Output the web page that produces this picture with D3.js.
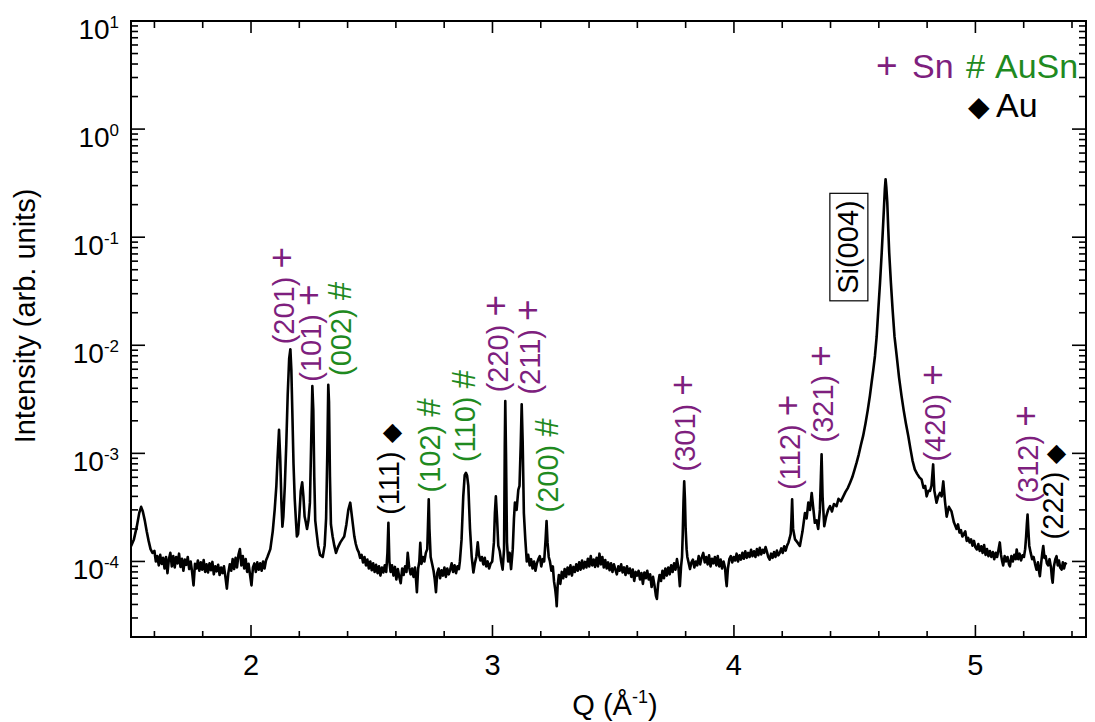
<!DOCTYPE html>
<html>
<head>
<meta charset="utf-8">
<script src="https://cdn.jsdelivr.net/npm/d3@7"></script>
<style>
  body { margin: 0; background: #fff; }
  svg { display: block; font-family: "Liberation Sans", Arial, sans-serif; }
</style>
</head>
<body>
<div id="chart"></div>
<script>
// XRD scan, Q (1/A) vs intensity
const scan = [
  [1.503,1.38e-4],[1.515,1.6e-4],[1.527,2.1e-4],[1.537,2.8e-4],[1.545,3.2e-4],[1.552,2.9e-4],
  [1.560,2.4e-4],[1.568,1.9e-4],[1.576,1.55e-4],[1.584,1.3e-4],[1.592,1.2e-4],[1.600,1.25e-4],
  [1.606,1.0e-4],[1.612,1.12e-4],[1.618,9.2e-5],[1.624,1.15e-4],[1.630,9.5e-5],[1.636,1.08e-4],
  [1.642,8.6e-5],[1.648,1.1e-4],[1.654,7.8e-5],[1.660,1.05e-4],[1.666,1.2e-4],[1.672,9.0e-5],
  [1.678,1.12e-4],[1.684,8.8e-5],[1.690,1.1e-4],[1.696,9.6e-5],[1.702,1.18e-4],[1.708,8.9e-5],
  [1.714,1.06e-4],[1.720,8.2e-5],[1.726,1.04e-4],[1.732,9.3e-5],[1.738,1.1e-4],[1.744,8.5e-5],
  [1.750,1.0e-4],[1.756,8.0e-5],[1.762,6.0e-5],[1.768,9.5e-5],[1.774,8.6e-5],[1.780,1.02e-4],
  [1.786,8.2e-5],[1.792,9.8e-5],[1.798,8.4e-5],[1.804,1.03e-4],[1.810,8.0e-5],[1.816,9.4e-5],
  [1.822,7.9e-5],[1.828,9.6e-5],[1.834,8.3e-5],[1.840,9.9e-5],[1.846,7.6e-5],[1.852,9.0e-5],
  [1.858,8.1e-5],[1.864,9.3e-5],[1.870,7.5e-5],[1.876,8.8e-5],[1.882,7.8e-5],[1.888,9.0e-5],
  [1.894,7.2e-5],[1.900,5.6e-5],[1.906,7.8e-5],[1.912,9.4e-5],[1.918,8.2e-5],[1.924,1.05e-4],
  [1.930,8.5e-5],[1.936,1.08e-4],[1.942,8.8e-5],[1.948,1.15e-4],[1.954,1.3e-4],[1.960,9.2e-5],
  [1.966,1.12e-4],[1.972,8.6e-5],[1.978,1.05e-4],[1.984,8.0e-5],[1.990,9.5e-5],[1.996,7.5e-5],
  [2.002,6.0e-5],[2.008,8.8e-5],[2.014,9.6e-5],[2.020,8.0e-5],[2.026,9.8e-5],[2.032,8.4e-5],
  [2.038,9.6e-5],[2.044,8.2e-5],[2.050,1.0e-4],[2.056,8.6e-5],[2.062,1.02e-4],[2.068,1.1e-4],
  [2.080,1.3e-4],[2.090,1.9e-4],[2.098,3.0e-4],[2.105,5.0e-4],[2.110,9.0e-4],[2.116,1.65e-3],
  [2.121,9.0e-4],[2.126,3.5e-4],[2.130,2.1e-4],[2.134,2.6e-4],[2.140,5.0e-4],[2.146,1.2e-3],
  [2.152,3.5e-3],[2.158,7.5e-3],[2.163,9.2e-3],[2.167,6.0e-3],[2.171,2.5e-3],[2.176,8.0e-4],
  [2.181,3.8e-4],[2.186,2.4e-4],[2.190,1.7e-4],[2.195,1.8e-4],[2.200,2.6e-4],[2.206,4.5e-4],
  [2.212,5.4e-4],[2.217,4.0e-4],[2.222,2.6e-4],[2.227,2.3e-4],[2.232,2.0e-4],[2.238,2.4e-4],
  [2.244,3.5e-4],[2.249,1.2e-3],[2.254,4.2e-3],[2.258,2.5e-3],[2.262,6.0e-4],[2.266,2.4e-4],
  [2.271,1.9e-4],[2.278,1.4e-4],[2.286,1.15e-4],[2.297,1.1e-4],[2.305,1.4e-4],[2.311,2.5e-4],
  [2.316,1.0e-3],[2.320,4.3e-3],[2.323,3.0e-3],[2.327,6.0e-4],[2.331,2.2e-4],[2.338,1.7e-4],
  [2.345,1.4e-4],[2.352,1.2e-4],[2.360,1.35e-4],[2.370,1.5e-4],[2.378,1.6e-4],[2.386,1.7e-4],
  [2.395,2.2e-4],[2.403,3.0e-4],[2.411,3.5e-4],[2.418,2.6e-4],[2.428,1.7e-4],[2.434,1.45e-4],
  [2.440,1.3e-4],[2.446,1.22e-4],[2.452,1.08e-4],[2.458,1.15e-4],[2.464,9.8e-5],[2.470,1.1e-4],
  [2.476,9.2e-5],[2.482,1.04e-4],[2.488,8.6e-5],[2.494,1.0e-4],[2.500,8.3e-5],[2.506,9.6e-5],
  [2.512,8.0e-5],[2.518,9.3e-5],[2.524,7.8e-5],[2.530,9.0e-5],[2.536,7.4e-5],[2.542,8.8e-5],
  [2.548,7.9e-5],[2.554,9.2e-5],[2.560,8.0e-5],[2.565,1.2e-4],[2.569,2.28e-4],[2.573,1.0e-4],
  [2.578,8.0e-5],[2.584,9.2e-5],[2.590,7.4e-5],[2.596,8.9e-5],[2.602,6.8e-5],[2.608,8.5e-5],
  [2.614,7.2e-5],[2.620,6.3e-5],[2.626,8.6e-5],[2.632,7.5e-5],[2.638,9.0e-5],[2.644,8.0e-5],
  [2.649,1.2e-4],[2.655,8.8e-5],[2.661,7.6e-5],[2.667,8.6e-5],[2.673,7.2e-5],[2.679,8.8e-5],
  [2.684,6.5e-5],[2.687,5.2e-5],[2.692,8.5e-5],[2.697,1.0e-4],[2.701,1.49e-4],[2.706,9.5e-5],
  [2.712,1.1e-4],[2.718,1.0e-4],[2.724,1.2e-4],[2.730,1.3e-4],[2.733,2.2e-4],[2.736,3.75e-4],
  [2.739,2.0e-4],[2.744,1.1e-4],[2.750,9.5e-5],[2.756,8.2e-5],[2.761,6.8e-5],[2.766,5.2e-5],
  [2.771,7.8e-5],[2.777,8.6e-5],[2.783,7.0e-5],[2.789,8.3e-5],[2.795,7.4e-5],[2.801,8.8e-5],
  [2.807,7.2e-5],[2.813,8.6e-5],[2.819,7.6e-5],[2.825,8.4e-5],[2.831,9.6e-5],[2.837,8.0e-5],
  [2.843,9.2e-5],[2.849,7.8e-5],[2.855,9.0e-5],[2.861,8.5e-5],[2.865,1.0e-4],[2.872,1.6e-4],
  [2.879,4.0e-4],[2.885,6.3e-4],[2.890,6.6e-4],[2.895,6.2e-4],[2.900,5.0e-4],[2.907,2.0e-4],
  [2.914,1.1e-4],[2.921,7.9e-5],[2.927,9.6e-5],[2.933,1.1e-4],[2.939,1.5e-4],[2.944,1.15e-4],
  [2.950,1.02e-4],[2.956,1.1e-4],[2.962,9.4e-5],[2.968,1.08e-4],[2.974,9.0e-5],[2.980,1.0e-4],
  [2.986,8.6e-5],[2.992,9.5e-5],[2.999,1.0e-4],[3.006,1.5e-4],[3.010,2.8e-4],[3.014,4.0e-4],
  [3.019,2.5e-4],[3.024,1.4e-4],[3.030,1.25e-4],[3.036,1.0e-4],[3.042,8.4e-5],[3.048,1.3e-4],
  [3.051,1.2e-3],[3.053,3.05e-3],[3.056,1.0e-3],[3.060,1.5e-4],[3.065,1.0e-4],[3.071,1.2e-4],
  [3.077,8.5e-5],[3.084,1.3e-4],[3.089,2.5e-4],[3.093,3.5e-4],[3.100,3.0e-4],[3.107,4.6e-4],
  [3.112,5.0e-4],[3.117,1.2e-3],[3.121,2.85e-3],[3.125,1.3e-3],[3.130,2.8e-4],[3.136,1.6e-4],
  [3.142,1.0e-4],[3.148,1.15e-4],[3.154,9.2e-5],[3.160,1.05e-4],[3.166,8.6e-5],[3.172,1.0e-4],
  [3.178,8.2e-5],[3.184,9.6e-5],[3.190,1.05e-4],[3.196,1.12e-4],[3.202,9.0e-5],[3.208,1.05e-4],
  [3.214,1.0e-4],[3.220,1.6e-4],[3.224,2.36e-4],[3.228,1.5e-4],[3.233,1.1e-4],[3.238,1.0e-4],
  [3.244,8.2e-5],[3.250,9.0e-5],[3.255,6.5e-5],[3.260,5.5e-5],[3.264,4.5e-5],[3.266,3.85e-5],
  [3.270,6.0e-5],[3.275,7.5e-5],[3.281,6.2e-5],[3.287,8.0e-5],[3.293,7.0e-5],[3.299,8.5e-5],
  [3.305,7.2e-5],[3.311,8.8e-5],[3.317,7.6e-5],[3.323,9.2e-5],[3.329,7.4e-5],[3.335,8.9e-5],
  [3.341,8.0e-5],[3.347,9.4e-5],[3.353,8.2e-5],[3.359,9.8e-5],[3.365,8.4e-5],[3.371,1.02e-4],
  [3.377,8.6e-5],[3.383,9.9e-5],[3.389,8.8e-5],[3.395,1.06e-4],[3.401,9.0e-5],[3.407,1.12e-4],
  [3.413,9.2e-5],[3.419,1.04e-4],[3.425,8.9e-5],[3.431,1.08e-4],[3.437,9.0e-5],[3.443,1.18e-4],
  [3.449,9.4e-5],[3.455,1.1e-4],[3.461,8.8e-5],[3.467,1.03e-4],[3.473,8.6e-5],[3.479,9.8e-5],
  [3.485,8.3e-5],[3.491,9.6e-5],[3.497,8.0e-5],[3.503,9.4e-5],[3.509,8.4e-5],[3.515,7.6e-5],
  [3.521,9.0e-5],[3.527,8.2e-5],[3.533,9.4e-5],[3.539,7.9e-5],[3.545,8.8e-5],[3.551,7.5e-5],
  [3.557,9.0e-5],[3.563,7.8e-5],[3.569,8.6e-5],[3.575,7.2e-5],[3.581,8.4e-5],[3.587,6.6e-5],
  [3.593,8.0e-5],[3.599,7.4e-5],[3.605,8.2e-5],[3.611,6.8e-5],[3.617,7.8e-5],[3.623,6.2e-5],
  [3.629,7.9e-5],[3.635,7.0e-5],[3.641,8.2e-5],[3.647,6.8e-5],[3.653,7.6e-5],[3.659,5.8e-5],
  [3.665,7.2e-5],[3.671,6.0e-5],[3.677,4.8e-5],[3.681,4.5e-5],[3.686,6.2e-5],[3.692,7.5e-5],
  [3.698,6.6e-5],[3.704,8.2e-5],[3.710,7.0e-5],[3.716,8.6e-5],[3.722,7.4e-5],[3.728,8.8e-5],
  [3.734,7.6e-5],[3.740,9.2e-5],[3.746,8.0e-5],[3.752,9.6e-5],[3.758,8.4e-5],[3.764,1.05e-4],
  [3.770,8.8e-5],[3.776,5.9e-5],[3.781,9.0e-5],[3.785,1.1e-4],[3.788,1.8e-4],[3.791,3.5e-4],
  [3.794,5.5e-4],[3.797,3.8e-4],[3.800,2.0e-4],[3.804,1.3e-4],[3.807,1.1e-4],[3.813,9.6e-5],
  [3.818,8.5e-5],[3.824,9.8e-5],[3.830,1.04e-4],[3.836,8.8e-5],[3.842,1.0e-4],[3.848,9.2e-5],
  [3.854,1.12e-4],[3.860,9.4e-5],[3.866,1.08e-4],[3.873,1.2e-4],[3.879,9.8e-5],[3.885,1.1e-4],
  [3.891,9.4e-5],[3.897,1.14e-4],[3.903,9.0e-5],[3.909,1.06e-4],[3.915,9.6e-5],[3.921,1.1e-4],
  [3.927,9.2e-5],[3.933,1.12e-4],[3.939,9.0e-5],[3.945,1.04e-4],[3.951,8.6e-5],[3.957,1.0e-4],
  [3.963,8.8e-5],[3.967,6.8e-5],[3.970,5.9e-5],[3.975,8.6e-5],[3.981,1.05e-4],[3.987,1.12e-4],
  [3.993,9.8e-5],[3.999,1.1e-4],[4.005,1.02e-4],[4.011,1.18e-4],[4.017,1.0e-4],[4.023,1.14e-4],
  [4.029,1.04e-4],[4.035,1.2e-4],[4.041,1.06e-4],[4.047,1.24e-4],[4.053,1.08e-4],[4.059,1.2e-4],
  [4.065,1.1e-4],[4.071,1.28e-4],[4.077,1.12e-4],[4.083,1.24e-4],[4.089,1.1e-4],[4.095,1.3e-4],
  [4.101,1.14e-4],[4.107,1.34e-4],[4.113,1.16e-4],[4.119,1.28e-4],[4.125,1.2e-4],[4.131,1.36e-4],
  [4.137,1.22e-4],[4.142,1.1e-4],[4.148,1.04e-4],[4.154,1.18e-4],[4.160,1.08e-4],[4.166,1.22e-4],
  [4.172,1.1e-4],[4.178,1.26e-4],[4.184,1.14e-4],[4.190,1.2e-4],[4.196,1.32e-4],[4.202,1.2e-4],
  [4.208,1.38e-4],[4.214,1.26e-4],[4.220,1.4e-4],[4.226,1.5e-4],[4.231,1.65e-4],[4.235,1.8e-4],
  [4.238,2.4e-4],[4.241,3.75e-4],[4.245,2.0e-4],[4.253,1.6e-4],[4.263,1.5e-4],[4.273,1.39e-4],
  [4.284,1.9e-4],[4.294,2.8e-4],[4.301,2.5e-4],[4.308,3.5e-4],[4.315,3.0e-4],[4.322,4.3e-4],
  [4.328,3.2e-4],[4.335,2.28e-4],[4.342,2.4e-4],[4.349,2.0e-4],[4.356,3.0e-4],[4.360,6.0e-4],
  [4.363,9.8e-4],[4.367,4.0e-4],[4.374,2.12e-4],[4.382,2.6e-4],[4.390,3.0e-4],[4.398,3.25e-4],
  [4.406,2.9e-4],[4.414,3.4e-4],[4.425,3.25e-4],[4.433,3.8e-4],[4.443,3.6e-4],[4.453,4.0e-4],
  [4.462,4.4e-4],[4.472,4.8e-4],[4.481,5.35e-4],[4.490,6.0e-4],[4.499,7.0e-4],[4.508,8.2e-4],
  [4.517,9.8e-4],[4.526,1.2e-3],[4.535,1.45e-3],[4.545,1.9e-3],[4.554,2.5e-3],[4.563,3.4e-3],
  [4.570,4.5e-3],[4.577,5.9e-3],[4.584,7.96e-3],[4.591,1.2e-2],[4.598,2.15e-2],[4.605,3.8e-2],
  [4.612,7.2e-2],[4.617,1.2e-1],[4.621,1.82e-1],[4.625,2.8e-1],[4.628,3.44e-1],[4.631,2.9e-1],
  [4.635,2.1e-1],[4.639,1.2e-1],[4.643,7.2e-2],[4.650,3.8e-2],[4.657,2.15e-2],[4.665,1.2e-2],
  [4.674,7.96e-3],[4.684,5.0e-3],[4.694,3.4e-3],[4.703,2.5e-3],[4.712,1.9e-3],[4.722,1.45e-3],
  [4.731,1.1e-3],[4.740,8.5e-4],[4.749,7.1e-4],[4.758,6.5e-4],[4.768,6.0e-4],[4.777,5.75e-4],
  [4.785,4.8e-4],[4.792,5.0e-4],[4.798,4.0e-4],[4.805,4.5e-4],[4.812,4.5e-4],[4.818,5.0e-4],
  [4.822,6.5e-4],[4.825,7.9e-4],[4.830,4.5e-4],[4.839,3.5e-4],[4.846,4.0e-4],[4.853,4.3e-4],
  [4.860,4.0e-4],[4.867,5.5e-4],[4.874,3.6e-4],[4.881,2.6e-4],[4.890,3.2e-4],[4.901,2.9e-4],
  [4.911,2.3e-4],[4.922,2.0e-4],[4.928,2.2e-4],[4.934,1.85e-4],[4.940,1.95e-4],[4.946,1.7e-4],
  [4.952,1.8e-4],[4.958,1.9e-4],[4.964,1.55e-4],[4.970,1.65e-4],[4.976,1.5e-4],[4.982,1.6e-4],
  [4.988,1.4e-4],[4.994,1.55e-4],[5.000,1.35e-4],[5.006,1.29e-4],[5.012,1.45e-4],[5.018,1.25e-4],
  [5.024,1.38e-4],[5.030,1.2e-4],[5.036,1.42e-4],[5.042,1.15e-4],[5.048,1.3e-4],[5.054,1.12e-4],
  [5.060,1.25e-4],[5.066,1.1e-4],[5.072,1.22e-4],[5.078,1.05e-4],[5.084,1.2e-4],[5.090,1.1e-4],
  [5.096,1.3e-4],[5.101,1.5e-4],[5.106,1.15e-4],[5.111,1.0e-4],[5.115,9.2e-5],[5.121,1.12e-4],
  [5.127,1.0e-4],[5.133,1.1e-4],[5.139,9.4e-5],[5.143,9.0e-5],[5.149,1.12e-4],[5.155,1.0e-4],
  [5.161,1.15e-4],[5.167,1.05e-4],[5.171,1.29e-4],[5.177,1.05e-4],[5.183,1.18e-4],[5.189,1.02e-4],
  [5.195,1.14e-4],[5.201,1.1e-4],[5.206,1.3e-4],[5.210,1.7e-4],[5.213,2.2e-4],[5.216,2.72e-4],
  [5.219,2.0e-4],[5.223,1.4e-4],[5.229,1.2e-4],[5.235,1.05e-4],[5.241,1.1e-4],[5.247,9.5e-5],
  [5.253,8.4e-5],[5.259,9.8e-5],[5.264,8.0e-5],[5.267,7.3e-5],[5.272,9.5e-5],[5.277,1.2e-4],
  [5.281,1.39e-4],[5.286,1.08e-4],[5.291,1.12e-4],[5.296,9.6e-5],[5.301,9.2e-5],[5.307,1.05e-4],
  [5.313,8.8e-5],[5.317,7.0e-5],[5.320,6.35e-5],[5.325,9.0e-5],[5.331,1.05e-4],[5.336,1.12e-4],
  [5.341,9.2e-5],[5.346,1.02e-4],[5.351,8.8e-5],[5.357,8.4e-5],[5.362,9.8e-5],[5.367,8.6e-5],
  [5.372,9.6e-5],[5.378,9.4e-5]
];

// peak labels: label position (Q) and intensity at the foot of the rotated text
const peakLabels = [
  { hkl: "(201)", phase: "Sn",   q: 2.133, base: 1.02e-2 },
  { hkl: "(101)", phase: "Sn",   q: 2.248, base: 4.6e-3 },
  { hkl: "(002)", phase: "AuSn", q: 2.369, base: 5.2e-3 },
  { hkl: "(111)", phase: "Au",   q: 2.571, base: 2.7e-4 },
  { hkl: "(102)", phase: "AuSn", q: 2.741, base: 4.35e-4 },
  { hkl: "(110)", phase: "AuSn", q: 2.886, base: 8.3e-4 },
  { hkl: "(220)", phase: "Sn",   q: 3.023, base: 3.67e-3 },
  { hkl: "(211)", phase: "Sn",   q: 3.155, base: 3.5e-3 },
  { hkl: "(200)", phase: "AuSn", q: 3.230, base: 2.84e-4 },
  { hkl: "(301)", phase: "Sn",   q: 3.797, base: 6.8e-4 },
  { hkl: "(112)", phase: "Sn",   q: 4.232, base: 4.6e-4 },
  { hkl: "(321)", phase: "Sn",   q: 4.369, base: 1.26e-3 },
  { hkl: "(420)", phase: "Sn",   q: 4.832, base: 8.4e-4 },
  { hkl: "(312)", phase: "Sn",   q: 5.217, base: 3.5e-4 },
  { hkl: "(222)", phase: "Au",   q: 5.321, base: 1.6e-4 }
];
const substrateLabel = { text: "Si(004)", q: 4.470, mid: 8.1e-2 };

const phases = ["Sn", "AuSn", "Au"];
const phaseMarks = ["+", "#", "\u25C6"];
const phaseColors = ["#7e1f7e", "#1f8a1f", "#000000"];

const xMajor = [2, 3, 4, 5];
const yMajor = [1e-4, 1e-3, 1e-2, 1e-1, 1, 10];
const yExponents = ["-4", "-3", "-2", "-1", "0", "1"];

// layout
const W = 1095, H = 722;
const margin = { top: 21, right: 9, bottom: 85, left: 131 };
const iw = W - margin.left - margin.right;
const ih = H - margin.top - margin.bottom;

const x = d3.scaleLinear().domain([1.503, 5.458]).range([0, iw]);
const y = d3.scaleLog().domain([2e-5, 10]).range([ih, 0]);

const markOf = p => phaseMarks[phases.indexOf(p)];
const colorOf = p => phaseColors[phases.indexOf(p)];
// the glyphs are drawn at their own sizes to match the figure
const markSize = { "Sn": 37, "AuSn": 33, "Au": 25 };

const svg = d3.select("#chart").append("svg")
  .attr("width", W).attr("height", H);

svg.append("defs").append("clipPath").attr("id", "plot")
  .append("rect").attr("width", iw).attr("height", ih);

const g = svg.append("g").attr("transform", `translate(${margin.left},${margin.top})`);

// minor ticks
const xMinor = d3.range(1.6, 5.46, 0.2).filter(v => Math.abs(v - Math.round(v)) > 0.01);
const yMinor = [];
for (let e = -5; e <= 0; e++) for (let m = 2; m <= 9; m++) {
  const v = m * Math.pow(10, e);
  if (v >= 2e-5 && v <= 10) yMinor.push(v);
}

// axes (mirrored on all four sides, ticks inward)
const tick = g.append("g").attr("stroke", "#000").attr("stroke-width", 1.6);
xMajor.forEach(v => {
  tick.append("line").attr("x1", x(v)).attr("x2", x(v)).attr("y1", ih).attr("y2", ih - 12);
  tick.append("line").attr("x1", x(v)).attr("x2", x(v)).attr("y1", 0).attr("y2", 12);
});
xMinor.forEach(v => {
  tick.append("line").attr("x1", x(v)).attr("x2", x(v)).attr("y1", ih).attr("y2", ih - 6);
  tick.append("line").attr("x1", x(v)).attr("x2", x(v)).attr("y1", 0).attr("y2", 7);
});
yMajor.forEach(v => {
  tick.append("line").attr("x1", 0).attr("x2", 14).attr("y1", y(v)).attr("y2", y(v));
  tick.append("line").attr("x1", iw).attr("x2", iw - 14).attr("y1", y(v)).attr("y2", y(v));
});
yMinor.forEach(v => {
  tick.append("line").attr("x1", 0).attr("x2", 7).attr("y1", y(v)).attr("y2", y(v));
  tick.append("line").attr("x1", iw).attr("x2", iw - 7).attr("y1", y(v)).attr("y2", y(v));
});

g.append("rect").attr("width", iw).attr("height", ih)
  .attr("fill", "none").attr("stroke", "#000").attr("stroke-width", 2);

// tick labels
g.selectAll(".xl").data(xMajor).enter().append("text")
  .attr("x", d => x(d)).attr("y", ih + 38)
  .attr("text-anchor", "middle").attr("font-size", 29)
  .text(d => d);

yMajor.forEach((v, i) => {
  const t = g.append("text").attr("x", -12).attr("y", y(v) + 18)
    .attr("text-anchor", "end").attr("font-size", 28);
  t.append("tspan").text("10");
  t.append("tspan").attr("dy", -11).attr("font-size", 17).text(yExponents[i]);
});

// axis titles
svg.append("text")
  .attr("transform", "translate(35,316) rotate(-90)")
  .attr("text-anchor", "middle").attr("font-size", 29)
  .text("Intensity (arb. units)");

const xt = svg.append("text").attr("x", 615).attr("y", 715)
  .attr("text-anchor", "middle").attr("font-size", 29);
xt.append("tspan").text("Q (\u00C5");
xt.append("tspan").attr("dy", -12).attr("font-size", 18).text("-1");
xt.append("tspan").attr("dy", 12).text(")");

// the scan
const line = d3.line().x(d => x(d[0])).y(d => y(d[1]));
g.append("path").datum(scan)
  .attr("clip-path", "url(#plot)")
  .attr("fill", "none").attr("stroke", "#000")
  .attr("stroke-width", 2.6).attr("stroke-linejoin", "round")
  .attr("d", line);

// peak labels, rotated
const pk = g.selectAll(".pk").data(peakLabels).enter().append("text")
  .attr("transform", d => `translate(${x(d.q)},${y(d.base)}) rotate(-90)`)
  .attr("dy", "0.36em")
  .attr("font-size", 29)
  .attr("fill", d => colorOf(d.phase));
pk.append("tspan").text(d => d.hkl + " ");
pk.append("tspan")
  .attr("font-size", d => markSize[d.phase])
  .text(d => markOf(d.phase));

// boxed substrate label
const sub = g.append("g")
  .attr("transform", `translate(${x(substrateLabel.q)},${y(substrateLabel.mid)}) rotate(-90)`);
const subText = sub.append("text").attr("text-anchor", "middle").attr("dy", "0.36em")
  .attr("font-size", 29).text(substrateLabel.text);
const bb = subText.node().getBBox();
sub.insert("rect", "text")
  .attr("x", bb.x - 7).attr("y", bb.y - 2)
  .attr("width", bb.width + 14).attr("height", bb.height + 6)
  .attr("fill", "#fff").attr("stroke", "#000").attr("stroke-width", 1.2);

// legend
const leg = svg.append("g").attr("font-size", 34);
leg.append("text").attr("x", 876).attr("y", 78).attr("font-size", 37).attr("fill", colorOf("Sn")).text(markOf("Sn"));
leg.append("text").attr("x", 912).attr("y", 78).attr("fill", colorOf("Sn")).text("Sn");
leg.append("text").attr("x", 966).attr("y", 78).attr("fill", colorOf("AuSn")).text(markOf("AuSn"));
leg.append("text").attr("x", 995).attr("y", 78).attr("fill", colorOf("AuSn")).text("AuSn");
leg.append("text").attr("x", 968).attr("y", 116).attr("font-size", 28).attr("fill", colorOf("Au")).text(markOf("Au"));
leg.append("text").attr("x", 996).attr("y", 117).attr("fill", colorOf("Au")).text("Au");
</script>
</body>
</html>
